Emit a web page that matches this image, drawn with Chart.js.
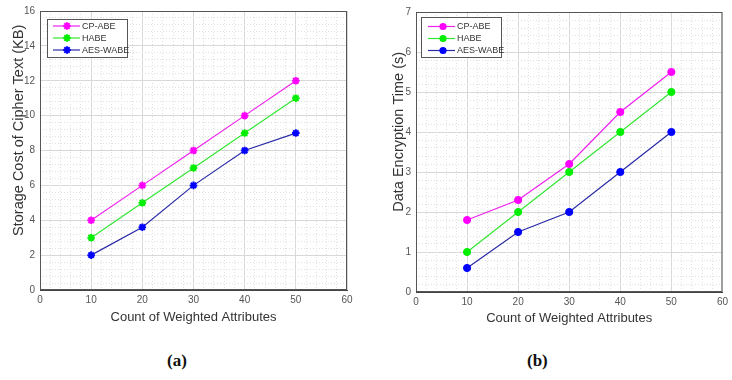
<!DOCTYPE html>
<html>
<head>
<meta charset="utf-8">
<script src="https://cdn.jsdelivr.net/npm/chart.js@4"></script>
<style>
body { margin: 0; background: #fff; width: 732px; height: 380px; position: relative; overflow: hidden; }
.box { position: absolute; top: 0; width: 366px; height: 340px; }
.cap { position: absolute; top: 351px; font: bold 17px "Liberation Serif", serif; color: #111; }
</style>
</head>
<body>
<div class="box" style="left:0"><canvas id="chartA" width="366" height="340"></canvas></div>
<div class="box" style="left:366px"><canvas id="chartB" width="366" height="340"></canvas></div>
<div class="cap" style="left:167px">(a)</div>
<div class="cap" style="left:527px">(b)</div>
<script>
// data
const attrCounts = [10, 20, 30, 40, 50];
const seriesNames = ['CP-ABE', 'HABE', 'AES-WABE'];
const storageCpAbe = [4, 6, 8, 10, 12];
const storageHabe = [3, 5, 7, 9, 11];
const storageAesWabe = [2, 3.6, 6, 8, 9];
const timeCpAbe = [1.8, 2.3, 3.2, 4.5, 5.5];
const timeHabe = [1, 2, 3, 4, 5];
const timeAesWabe = [0.6, 1.5, 2, 3, 4];

const lineColors = ['#ee22ee', '#33e633', '#2a2aa8'];
const markColors = ['#ff00ff', '#00ee00', '#0000ff'];

function toPoints(vals) {
    return attrCounts.map((x, i) => ({x: x, y: vals[i]}));
}

function makeDatasets(lists, style, radius) {
    return lists.map((vals, i) => ({
        label: seriesNames[i],
        data: toPoints(vals),
        borderColor: lineColors[i],
        borderWidth: 1.2,
        pointStyle: style,
        pointRadius: radius,
        pointBorderColor: markColors[i],
        pointBackgroundColor: markColors[i],
        pointBorderWidth: style === 'star' ? 2 : 1,
        tension: 0
    }));
}

function isMajor(v, step) {
    const r = v / step;
    return Math.abs(r - Math.round(r)) < 1e-6;
}

// legend box drawn inside the plot, plus the plot frame
const insetLegend = {
    id: 'insetLegend',
    afterDraw(chart, args, o) {
        const ctx = chart.ctx, a = chart.chartArea;
        ctx.save();
        ctx.strokeStyle = '#555';
        ctx.lineWidth = 1;
        ctx.strokeRect(a.left + 0.5, a.top + 0.5, a.right - a.left - 1, a.bottom - a.top - 1);
        const x = a.left + o.dx, y = a.top + o.dy;
        ctx.fillStyle = '#fff';
        ctx.fillRect(x, y, o.w, o.h);
        ctx.strokeStyle = '#555';
        ctx.strokeRect(x + 0.5, y + 0.5, o.w, o.h);
        ctx.font = '9px "Liberation Sans", Arial, sans-serif';
        ctx.textBaseline = 'middle';
        chart.data.datasets.forEach((ds, i) => {
            const ry = y + o.row0 + i * o.rowH;
            ctx.strokeStyle = ds.borderColor;
            ctx.lineWidth = 1.2;
            ctx.beginPath();
            ctx.moveTo(x + o.lineX0, ry);
            ctx.lineTo(x + o.lineX1, ry);
            ctx.stroke();
            const mx = x + o.markX;
            ctx.strokeStyle = ds.pointBorderColor;
            ctx.fillStyle = ds.pointBackgroundColor;
            if (ds.pointStyle === 'star') {
                ctx.lineWidth = 2;
                const r = ds.pointRadius;
                for (let k = 0; k < 4; k++) {
                    const ang = k * Math.PI / 4;
                    ctx.beginPath();
                    ctx.moveTo(mx - r * Math.cos(ang), ry - r * Math.sin(ang));
                    ctx.lineTo(mx + r * Math.cos(ang), ry + r * Math.sin(ang));
                    ctx.stroke();
                }
            } else {
                ctx.beginPath();
                ctx.arc(mx, ry, ds.pointRadius, 0, Math.PI * 2);
                ctx.fill();
            }
            ctx.fillStyle = '#333';
            ctx.fillText(ds.label, x + o.textX, ry + 0.5);
        });
        ctx.restore();
    }
};

// leading spaces push the rotated title up, as in the original figure
const titleShift = '\u00a0'.repeat(10);

function makeScales(cfg) {
    return {
        x: {
            type: 'linear', min: 0, max: 60,
            ticks: {stepSize: 10, color: '#555', font: {size: 10, family: '"Liberation Sans", Arial'}, padding: 4},
            grid: {color: '#d8d8d8', drawTicks: false},
            border: {color: '#444'},
            title: {display: true, text: 'Count of Weighted Attributes', color: '#333',
                font: {size: 13, family: '"Liberation Sans", Arial'}, padding: {top: 0, bottom: cfg.xTitlePad}},
            afterFit(s) { s.height = cfg.xHeight; }
        },
        y: {
            type: 'linear', min: 0, max: cfg.yMax,
            ticks: {stepSize: cfg.yStep, color: '#555', font: {size: 10, family: '"Liberation Sans", Arial'}, padding: 5},
            grid: {color: '#d8d8d8', drawTicks: false},
            border: {color: '#444'},
            title: {display: true, text: titleShift + cfg.yTitle, color: '#333',
                font: {size: 14.5, family: '"Liberation Sans", Arial'}, padding: {top: cfg.yTitlePad, bottom: 0}},
            afterFit(s) { s.width = cfg.yWidth; }
        },
        xMinor: {
            type: 'linear', position: 'top', min: 0, max: 60,
            ticks: {display: false, stepSize: 2},
            grid: {drawTicks: false, color: c => isMajor(c.tick.value, 10) ? 'rgba(0,0,0,0)' : '#e0e0e0'},
            border: {display: false, dash: [1, 2]},
            afterFit(s) { s.height = 0; }
        },
        yMinor: {
            type: 'linear', position: 'right', min: 0, max: cfg.yMax,
            ticks: {display: false, stepSize: cfg.yMinorStep},
            grid: {drawTicks: false, color: c => isMajor(c.tick.value, cfg.yStep) ? 'rgba(0,0,0,0)' : '#e0e0e0'},
            border: {display: false, dash: [1, 2]},
            afterFit(s) { s.width = 0; }
        }
    };
}

function makeChart(id, datasets, cfg, legendGeo) {
    return new Chart(document.getElementById(id), {
        type: 'line',
        data: {datasets: datasets},
        options: {
            responsive: false,
            animation: false,
            layout: {padding: {top: cfg.padTop, right: cfg.padRight, left: 0, bottom: 0}},
            scales: makeScales(cfg),
            plugins: {
                legend: {display: false},
                tooltip: {enabled: false},
                insetLegend: legendGeo
            }
        },
        plugins: [insetLegend]
    });
}

makeChart('chartA',
    makeDatasets([storageCpAbe, storageHabe, storageAesWabe], 'star', 3.8),
    {yMax: 16, yStep: 2, yMinorStep: 0.4, yTitle: 'Storage Cost of Cipher Text (KB)',
     yWidth: 40, xHeight: 50, padTop: 11, padRight: 19, xTitlePad: 15, yTitlePad: 10},
    {dx: 7, dy: 8, w: 80, h: 38, row0: 7, rowH: 12, lineX0: 6, lineX1: 33, markX: 20, textX: 35});

makeChart('chartB',
    makeDatasets([timeCpAbe, timeHabe, timeAesWabe], 'circle', 3.6),
    {yMax: 7, yStep: 1, yMinorStep: 0.2, yTitle: 'Data Encryption Time (s)',
     yWidth: 50, xHeight: 48, padTop: 12, padRight: 9, xTitlePad: 14, yTitlePad: 24},
    {dx: 5, dy: 5, w: 80, h: 40, row0: 9.5, rowH: 12, lineX0: 7, lineX1: 34, markX: 22, textX: 36});
</script>
</body>
</html>
